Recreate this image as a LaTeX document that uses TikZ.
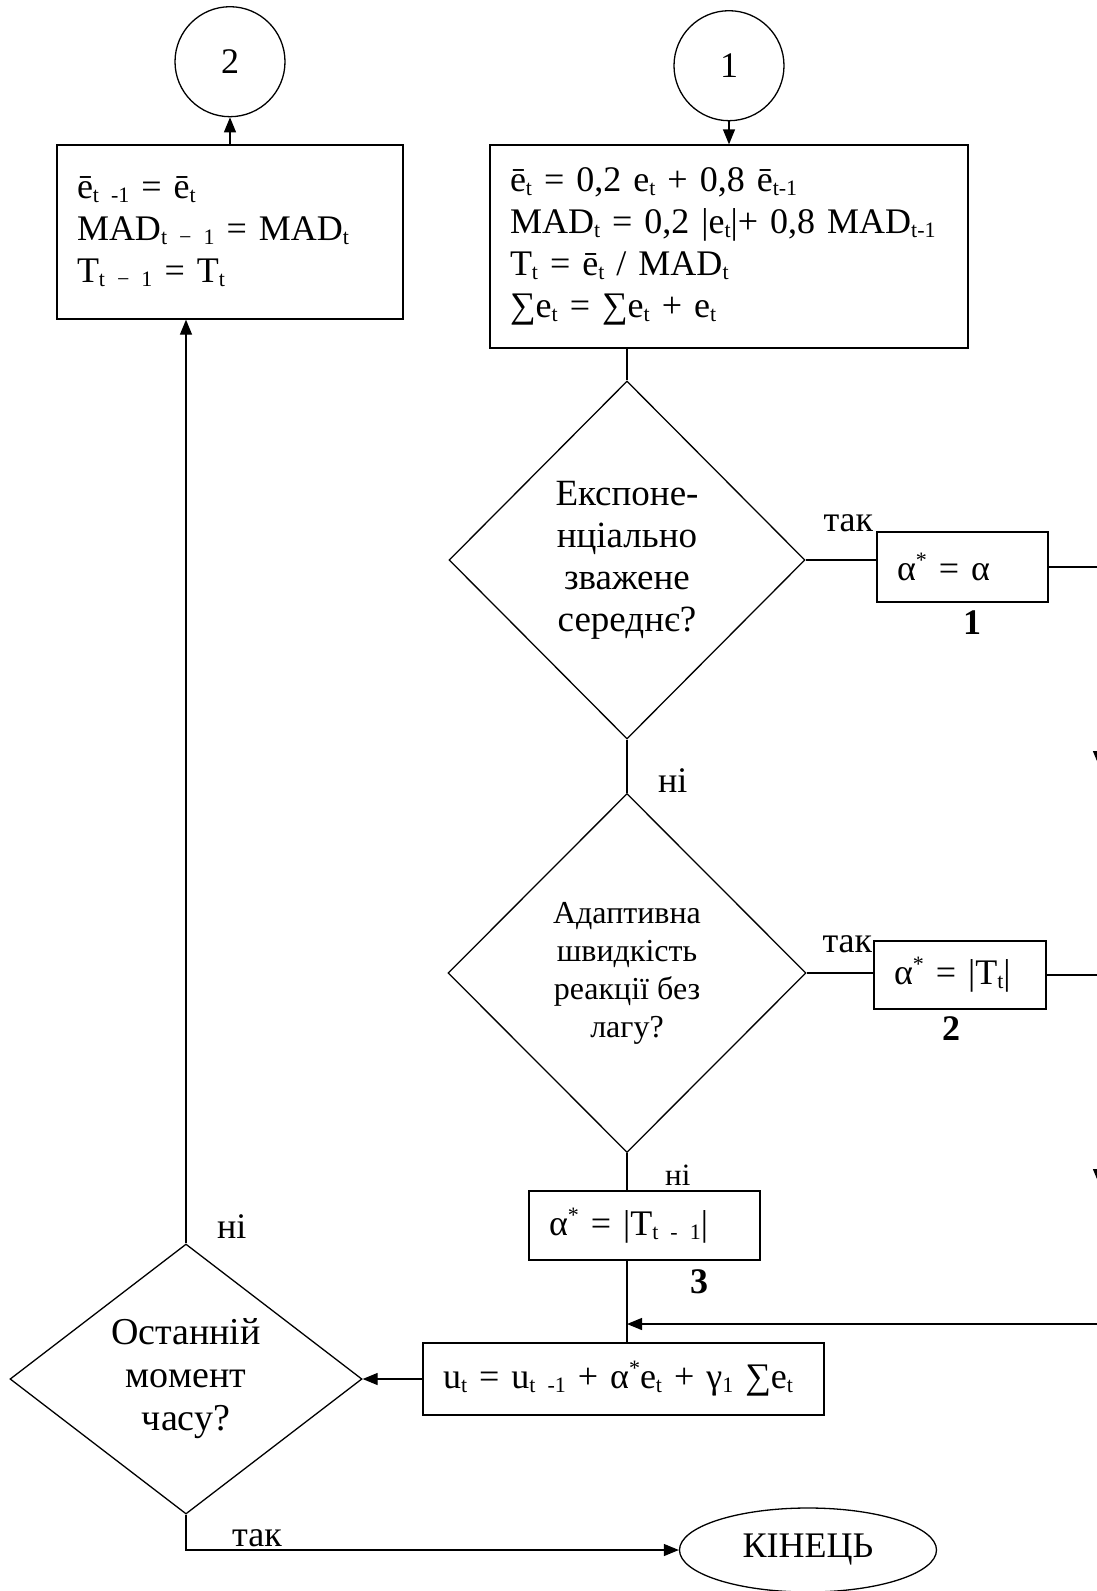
\documentclass[tikz,border=0pt]{standalone}
\usepackage{fontspec}
\setmainfont{Liberation Serif}
\usetikzlibrary{shapes.geometric, arrows.meta, positioning}

% Word-like indices: small and only slightly shifted
\newcommand{\sbs}[1]{\raisebox{-4pt}{\fontsize{22}{22}\selectfont #1}}
\newcommand{\sps}[1]{\raisebox{13pt}{\fontsize{22}{22}\selectfont #1}}

\tikzset{
	block/.style={
		draw,
		line width=1.3pt,
		align=left,
		inner xsep=20pt,
		inner ysep=0pt,
		font=\fontsize{36}{42}\selectfont,
	},
	choice/.style={
		draw,
		diamond,
		line width=1.3pt,
		inner sep=0pt,
		align=center,
	},
	connector/.style={
		draw,
		circle,
		line width=1.3pt,
		minimum size=110pt,
		inner sep=0pt,
		font=\fontsize{36}{42}\selectfont,
	},
	term/.style={
		draw,
		ellipse,
		line width=1.3pt,
		minimum width=257pt,
		minimum height=84pt,
		inner sep=0pt,
		font=\fontsize{36}{42}\selectfont,
	},
	lbl/.style={inner sep=0pt, font=\fontsize{36}{42}\selectfont},
	num/.style={inner sep=0pt, font=\fontsize{36}{42}\selectfont\bfseries},
	line/.style={line width=1.3pt},
	flow/.style={
		-{Triangle[length=15pt, width=12pt]},
		line width=1.3pt,
	}
}

\begin{document}
\begin{tikzpicture}[x=1pt, y=-1pt]
	\useasboundingbox (0,0) rectangle (1097,1591);
	\clip (0,0) rectangle (1097,1591);

	% --- Top row ---
	\node[block, text width=306pt, minimum height=174pt] (shift) at (230,232)
	{ē\sbs{t -1} = ē\sbs{t}\\
	 MAD\sbs{t − 1} = MAD\sbs{t}\\
	 T\sbs{t − 1} = T\sbs{t}};
	\node[block, text width=438pt, minimum height=203pt] (smooth) at (729,246.5)
	{ē\sbs{t} = 0,2 e\sbs{t} + 0,8 ē\sbs{t-1}\\
	 MAD\sbs{t} = 0,2 |e\sbs{t}|+ 0,8 MAD\sbs{t-1}\\
	 T\sbs{t} = ē\sbs{t} / MAD\sbs{t}\\
	 ∑e\sbs{t} = ∑e\sbs{t} + e\sbs{t}};
	\node[connector] (con2) [above=27pt of shift] {2};
	\node[connector] (con1) [above=23pt of smooth] {1};

	% --- Decisions on the middle column ---
	\node[choice, minimum width=356pt, minimum height=358pt,
		font=\fontsize{37}{42}\selectfont] (isexp) at (627,560)
	{Експоне-\\нціально\\зважене\\середнє?};
	\node[choice, minimum width=358pt, minimum height=359pt,
		font=\fontsize{32}{38}\selectfont] (isadapt) at (627,973)
	{Адаптивна\\швидкість\\реакції без\\лагу?};

	% --- Choice of alpha ---
	\node[block, text width=131pt, minimum height=70pt] (alfa1) at (962.5,567) {α\sps{*} = α};
	\node[block, text width=132pt, minimum height=68pt] (alfa2) at (960,975) {α\sps{*} = |T\sbs{t}|};
	\node[block, text width=191pt, minimum height=69pt] (alfa3) at (644.5,1225.5) {α\sps{*} = |T\sbs{t - 1}|};
	\node[num] (tag1) at (972,623) {1};
	\node[num] (tag2) at (951,1029) {2};
	\node[num] (tag3) at (699,1282) {3};

	% --- Bottom part ---
	\node[block, text width=361pt, minimum height=72pt] (ctrl) at (623.5,1379)
	{u\sbs{t} = u\sbs{t -1} + α\sps{*}e\sbs{t} + γ\sbs{1} ∑e\sbs{t}};
	\node[choice, minimum width=352pt, minimum height=263pt,
		font=\fontsize{38}{43}\selectfont] (islast) at (186,1379)
	{Останній\\момент\\часу?};
	\node[term] (stop) at (808,1550) {КІНЕЦЬ};

	% --- Branch labels ---
	\node[lbl, anchor=base east] (yes1) at ([xshift=-3pt]alfa1.north west) {так};
	\node[lbl, anchor=base east] (yes2) at ([xshift=-1pt, yshift=-12pt]alfa2.north west) {так};
	\node[lbl, anchor=base west] (no1) at ([xshift=31pt]isadapt.north) {ні};
	\node[lbl, anchor=base west, font=\fontsize{31}{36}\selectfont] (no2) at (665,1185) {ні};
	\node[lbl, anchor=base west] (no3) at ([xshift=31pt, yshift=5pt]islast.north) {ні};
	\node[lbl, anchor=base west] (yes3) at ([xshift=46pt, yshift=-32pt]islast.south) {так};

	% right-hand bus, runs just past the page edge
	\coordinate (rA) at (1099,766);
	\coordinate (rB) at (alfa2.east -| rA);
	\coordinate (rC) at (1099,1184);
	\coordinate (merge) at (627,1324);

	% --- Flows ---
	\draw[flow] (con1) -- (smooth);
	\draw[flow] (shift) -- (con2);
	\draw[line] (isexp.north |- smooth.south) -- (isexp.north);
	\draw[line] (isexp.south) -- (isadapt.north);
	\draw[line] (isexp.east) -- (isexp.east -| alfa1.west);
	\draw[line] (isadapt.east) -- (isadapt.east -| alfa2.west);
	\draw[line] (isadapt.south) -- (isadapt.south |- alfa3.north);
	\draw[line] (isadapt.south |- alfa3.south) -- (isadapt.south |- ctrl.north);
	\draw[flow] (alfa1.east) -| (rA);
	\draw[line] (rA) -- (rB);
	\draw[line] (alfa2.east) -- (rB);
	\draw[flow] (rB) -- (rC);
	\draw[flow] (rC) |- (merge);
	\draw[flow] (ctrl.west) -- (islast.east);
	\draw[flow] (islast.north) -- (islast.north |- shift.south);
	\draw[flow] (islast.south) |- (stop.west);
\end{tikzpicture}
\end{document}
